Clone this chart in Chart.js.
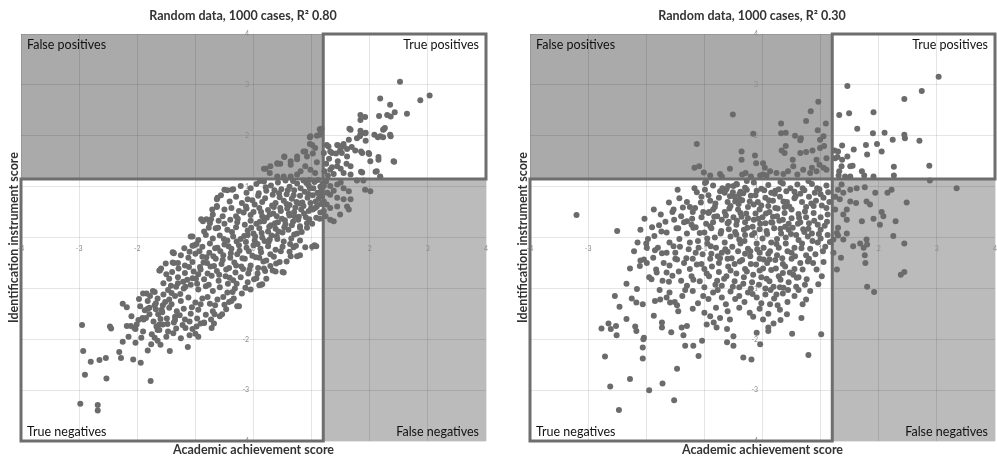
<!DOCTYPE html>
<html>
<head>
<meta charset="utf-8">
<title>Random data, 1000 cases</title>
<script src="https://cdn.jsdelivr.net/npm/chart.js@4.4.1/dist/chart.umd.min.js"></script>
<style>
  html, body { margin: 0; padding: 0; background: #fff; overflow: hidden; }
  .panel { position: absolute; top: 0; }
</style>
</head>
<body>
<div class="panel" style="left:0"><canvas id="chartStrong" width="498" height="457"></canvas></div>
<div class="panel" style="left:509px"><canvas id="chartWeak" width="498" height="457"></canvas></div>
<script>
// titles and labels
const chartTitles = ["Random data, 1000 cases, R\u00b2 0.80", "Random data, 1000 cases, R\u00b2 0.30"];
const xTitle = "Academic achievement score";
const yTitle = "Identification instrument score";
const quadrantNames = ["False positives", "True positives", "True negatives", "False negatives"];

// axis range and cut-off scores (x = achievement, y = instrument)
const axisRange = [-4, 4];
const cutoffX = 1.2;
const cutoffY = 1.15;

// R² 0.80 panel [achievement, instrument]
const casesStrong = [
  // lower-left tail
  [-2.95,-1.72],[-2.93,-2.23],[-2.90,-2.70],[-2.80,-2.44],[-2.65,-2.41],[-2.54,-2.37],[-2.53,-2.77],[-2.98,-3.27],[-2.68,-3.29],[-2.68,-3.40],
  [-2.47,-1.75],[-2.45,-1.79],[-2.31,-2.25],[-2.28,-2.37],[-2.25,-1.30],[-2.18,-1.37],[-2.25,-2.05],[-2.18,-1.74],[-2.11,-1.74],[-2.05,-1.78],
  [-2.03,-1.80],[-2.15,-1.95],[-2.07,-2.40],[-2.03,-2.07],[-1.94,-2.46],[-1.91,-1.58],[-1.89,-1.61],[-1.82,-2.22],[-1.77,-2.82],[-1.76,-2.10],
  [-1.84,-1.10],[-1.82,-1.25],[-1.79,-1.38],[-1.73,-1.05],[-1.70,-1.07],[-1.70,-1.97],[-1.65,-2.03],[-1.60,-2.11],[-1.67,-1.75],[-1.65,-1.82],
  [-1.61,-0.65],[-1.59,-0.61],[-1.68,-1.41],[-1.56,-1.33],[-1.64,-1.51],[-1.56,-1.71],[-1.47,-1.85],[-1.44,-2.23],[-1.37,-0.31],[-1.37,-0.50],
  [-1.37,-1.67],[-1.35,-1.56],[-1.13,-2.15],[-1.17,-1.78],[-1.05,-1.80],[-1.00,-1.89],[-0.91,-1.69],[-0.85,-1.67],[-0.68,-1.69],[-0.67,-1.51],
  [-0.54,-1.51],[-0.42,-1.27],[-0.34,-1.20],[-0.28,-1.35],
  // band edges
  [0.13,-0.93],[0.01,-0.82],[0.38,-0.67],[0.52,-0.69],[0.80,-0.35],[0.75,-0.37],[0.64,-0.37],[1.08,-0.17],[1.01,-0.18],[0.18,-0.61],[0.29,-0.56],
  [0.73,-0.16],[0.89,-0.19],[1.05,-0.15],[0.50,-0.68],[0.10,-0.94],[0.33,-0.65],[0.22,-0.81],[0.70,0.06],[0.80,0.19],[0.96,0.36],[1.08,0.39],[1.02,0.55],
  [-0.50,0.94],[-0.37,0.94],[-0.63,0.75],[-0.63,0.62],[-0.73,0.36],[-0.81,0.36],[-0.90,0.36],[-0.53,0.42],[-0.61,0.19],[-1.08,0.02],[-1.05,-0.16],
  [-1.39,-0.29],[-1.39,-0.49],
  // band core
  [0.05,1.05],[0.18,1.10],[0.30,1.02],[0.42,1.08],[0.55,1.12],[0.62,1.00],[0.75,1.06],[0.86,1.12],[0.95,1.02],[1.05,1.09],[1.15,1.00],[0.48,0.95],
  [0.70,0.93],[0.88,0.90],[1.10,0.88],[0.22,0.92],[-0.05,0.97],[-0.45,0.93],[-0.35,0.95],[-0.12,0.88],
  [-0.62,0.78],[-0.30,0.80],[-0.10,0.75],[0.08,0.82],[0.20,0.77],[0.33,0.84],[0.45,0.79],[0.57,0.85],[0.66,0.76],[0.80,0.82],[0.93,0.78],[1.02,0.83],
  [1.12,0.76],[0.15,0.70],[0.38,0.68],[0.52,0.72],[0.74,0.70],[0.98,0.68],[1.16,0.66],[-0.20,0.68],[0.02,0.65],[0.62,0.64],[0.86,0.62],
  [-0.63,0.60],[-0.50,0.55],[-0.38,0.58],[-0.25,0.52],[-0.12,0.57],[0.00,0.50],[0.10,0.58],[0.25,0.54],[0.35,0.60],[0.47,0.52],[0.58,0.57],[0.70,0.50],
  [0.82,0.55],[0.95,0.52],[1.06,0.58],[1.15,0.49],[0.28,0.45],[0.40,0.42],[0.15,0.42],[-0.05,0.44],[0.62,0.43],[0.78,0.41],[0.90,0.40],[-0.30,0.42],[-0.70,0.45],
  [-0.87,0.32],[-0.75,0.28],[-0.60,0.33],[-0.50,0.27],[-0.40,0.35],[-0.28,0.30],[-0.15,0.25],[-0.05,0.33],[0.05,0.27],[0.18,0.32],[0.30,0.24],[0.42,0.30],
  [0.55,0.26],[0.68,0.31],[0.80,0.22],[0.92,0.28],[-0.65,0.18],[-0.45,0.15],[-0.30,0.20],[-0.10,0.14],[0.10,0.18],[0.25,0.12],[0.38,0.17],[0.50,0.10],
  [0.60,0.15],[0.75,0.08],[-0.85,0.12],[0.00,0.08],
  [-1.05,0.02],[-0.95,-0.05],[-0.82,0.05],[-0.70,-0.02],[-0.58,0.04],[-0.45,-0.06],[-0.35,0.02],[-0.22,-0.03],[-0.10,0.05],[0.02,-0.06],[0.15,0.00],[0.28,-0.04],
  [0.40,0.03],[0.52,-0.08],[0.65,-0.02],[0.80,-0.06],[-1.02,-0.15],[-0.88,-0.18],[-0.75,-0.12],[-0.62,-0.20],[-0.50,-0.14],[-0.38,-0.22],[-0.25,-0.15],[-0.12,-0.20],
  [0.00,-0.15],[0.12,-0.22],[0.25,-0.17],[0.38,-0.24],[0.50,-0.18],[0.62,-0.28],[-1.10,-0.28],
  [-1.38,-0.30],[-1.25,-0.35],[-1.12,-0.40],[-1.00,-0.32],[-0.88,-0.38],[-0.76,-0.30],[-0.65,-0.42],[-0.52,-0.35],[-0.40,-0.40],[-0.28,-0.33],[-0.15,-0.42],[-0.02,-0.36],
  [0.10,-0.40],[0.22,-0.45],[0.35,-0.38],[0.45,-0.48],[-1.30,-0.50],[-1.18,-0.55],[-1.05,-0.48],[-0.92,-0.58],[-0.80,-0.50],[-0.68,-0.56],[-0.55,-0.52],[-0.42,-0.60],
  [-0.30,-0.55],[-0.18,-0.62],[-0.05,-0.55],[0.08,-0.60],[0.20,-0.66],
  [-1.62,-0.65],[-1.50,-0.72],[-1.40,-0.68],[-1.30,-0.78],[-1.18,-0.70],[-1.05,-0.80],[-0.95,-0.72],[-0.85,-0.82],[-0.72,-0.75],[-0.60,-0.85],[-0.48,-0.76],[-0.35,-0.84],
  [-0.22,-0.78],[-0.10,-0.88],[0.05,-0.80],[0.15,-0.92],[-1.55,-0.90],[-1.42,-0.95],[-1.30,-0.90],[-1.20,-1.00],[-1.08,-0.93],[-0.95,-1.02],[-0.82,-0.96],[-0.70,-1.05],
  [-0.58,-0.98],[-0.45,-1.08],[-0.32,-1.00],[-0.20,-1.10],[-0.05,-1.02],
  [-1.90,-1.10],[-1.78,-1.15],[-1.65,-1.20],[-1.55,-1.12],[-1.45,-1.22],[-1.35,-1.15],[-1.25,-1.25],[-1.12,-1.18],[-1.00,-1.28],[-0.88,-1.20],[-0.75,-1.30],[-0.62,-1.22],
  [-0.50,-1.32],[-0.38,-1.25],[-0.25,-1.35],[-1.95,-1.35],[-1.82,-1.40],[-1.70,-1.33],[-1.58,-1.42],[-1.45,-1.38],[-1.32,-1.45],[-1.20,-1.40],[-1.08,-1.50],[-0.95,-1.42],
  [-0.82,-1.52],[-0.70,-1.45],[-0.58,-1.55],
  [-2.10,-1.55],[-1.98,-1.62],[-1.85,-1.58],[-1.72,-1.65],[-1.60,-1.60],[-1.48,-1.70],[-1.35,-1.62],[-1.22,-1.72],[-1.10,-1.65],[-0.98,-1.75],[-0.85,-1.68],[-0.72,-1.78],
  [-1.90,-1.85],[-1.75,-1.90],[-1.62,-1.82],[-1.50,-1.95],[-1.38,-1.88],[-1.25,-1.98],[-1.10,-1.92],[-0.95,-1.95],
  // band core, filling between the rows
  [-1.47,-1.03],[-1.33,-0.97],[-1.26,-1.11],[-1.14,-0.83],[-1.03,-0.67],[-0.97,-0.91],[-0.91,-0.63],[-0.86,-0.49],[-0.79,-0.71],[-0.74,-0.57],[-0.69,-0.37],[-0.63,-0.66],
  [-0.57,-0.27],[-0.53,-0.44],[-0.47,-0.63],[-0.43,-0.17],[-0.39,-0.31],[-0.33,-0.49],[-0.29,-0.08],[-0.24,-0.26],[-0.19,-0.41],[-0.16,0.03],[-0.13,-0.09],[-0.08,-0.27],
  [-0.04,0.19],[0.03,0.02],[0.07,-0.13],[0.11,0.31],[0.14,0.09],[0.19,-0.07],[0.23,0.39],[0.27,0.21],[0.31,0.04],[0.34,0.47],[0.37,0.28],[0.43,0.12],
  [0.46,0.58],[0.49,0.37],[0.53,0.20],[0.57,0.66],[0.61,0.47],[0.66,0.24],[0.69,0.83],[0.72,0.59],[0.77,0.35],[0.81,0.97],[0.84,0.69],[0.87,0.47],
  [0.91,1.07],[0.94,0.86],[0.99,0.58],[1.03,0.97],[1.07,0.71],[1.11,1.13],[1.13,0.85],[1.17,0.93],[1.19,1.06],
  [-1.52,-1.27],[-1.41,-1.09],[-1.29,-0.61],[-1.17,-0.97],[-1.11,-0.58],[-0.99,-0.81],[-0.93,-0.27],[-0.81,-0.39],[-0.77,-0.93],[-0.66,-0.21],[-0.59,-0.73],[-0.51,-0.03],
  [-0.44,-0.91],[-0.37,0.11],[-0.31,-0.69],[-0.27,0.37],[-0.21,-0.57],[-0.17,0.49],[-0.09,-0.71],[-0.02,0.73],[0.04,-0.39],[0.09,0.87],[0.13,-0.29],[0.21,0.99],
  [0.26,-0.09],[0.32,0.63],[0.41,-0.03],[0.44,0.87],[0.54,0.34],[0.59,0.93],[0.63,-0.13],[0.71,0.41],[0.79,0.67],[0.83,0.11],[0.92,0.19],[0.97,0.97],
  [1.01,0.27],[1.09,0.61],[1.14,0.37],[1.18,0.81],
  [-1.79,-1.51],[-1.68,-1.29],[-1.62,-1.71],[-1.57,-1.47],[-1.49,-1.59],[-1.41,-1.31],[-1.33,-1.79],[-1.27,-1.53],[-1.18,-1.61],[-1.06,-1.37],[-0.97,-1.59],[-0.91,-1.31],
  [-0.79,-1.17],[-0.73,-1.61],[-0.66,-1.33],[-0.52,-1.17],[-0.47,-1.41],[-0.41,-0.79],[-0.36,-1.07],[-0.29,-0.91],[-0.14,-0.99],[-0.07,-0.63],[0.07,-0.71],[0.17,-0.47],
  [0.29,-0.33],[0.39,-0.51],[0.47,-0.27],[0.57,-0.47],[0.69,-0.19],
  [-1.97,-1.21],[-1.87,-1.43],[-2.01,-1.71],[-1.93,-1.97],[-1.45,-0.81],[-1.21,-0.87],[-1.51,-0.51],[-1.19,-0.21],[-0.98,-0.13],[-0.77,0.19],[-0.71,0.55],[-0.56,0.83],
  [-0.41,0.71],[-0.22,1.01],[-0.13,0.61],[0.11,1.11],[0.36,0.93],[0.13,0.50],[0.68,1.11],[0.96,1.13],
  // upper right
  [2.52,3.06],[3.03,2.79],[2.87,2.70],[2.18,2.73],[2.35,2.61],[2.43,2.46],[2.64,2.43],[2.16,2.39],[2.30,2.41],[2.36,2.38],[1.84,2.41],[1.92,2.37],
  [1.84,2.31],[1.65,2.14],[1.84,2.10],[1.93,2.06],[2.08,2.02],[2.14,1.97],[2.23,2.12],[2.26,2.15],[2.23,1.97],[2.36,1.99],[1.78,1.95],[1.83,1.99],
  [1.93,1.90],[1.85,1.69],[1.99,1.64],[2.15,1.58],[2.42,1.49],[1.87,1.28],[2.10,1.29],[2.18,1.20],[1.67,2.12],[1.64,1.92],[1.55,1.84],[1.46,1.81],
  [1.49,1.71],[1.61,1.74],[1.69,1.78],[1.75,1.71],[1.35,1.66],[1.42,1.65],[1.29,1.79],[1.26,1.82],
  [1.21,1.66],[1.32,1.69],[1.44,1.82],[1.55,1.79],[1.52,1.66],[1.61,1.59],[1.67,1.40],[1.44,1.40],[1.32,1.33],[1.55,1.27],[1.67,1.24],[1.78,1.12],
  [1.89,1.12],[2.15,1.53],[2.01,1.50],[1.87,1.66],[1.98,1.66],[1.84,2.02],[1.92,2.05],[2.18,1.99],[2.24,2.13],[2.35,2.02],[2.41,1.50],[2.12,1.30],
  [2.18,1.19],[1.85,1.29],[1.25,1.45],[1.30,1.55],[1.38,1.25],[1.45,1.50],[1.28,1.22],[1.35,1.38],[1.50,1.35],[1.22,1.30],[1.60,1.45],
  // above the instrument cut-off, below the achievement cut-off
  [1.14,2.13],[1.09,2.00],[0.97,1.97],[0.97,1.84],[1.06,1.76],[0.89,1.69],[0.75,1.59],[0.53,1.59],[0.64,1.50],[0.46,1.45],[0.41,1.45],[0.29,1.40],
  [0.21,1.35],[0.41,1.46],[0.53,1.58],[0.64,1.43],[0.75,1.54],[0.28,1.27],[0.18,1.35],[0.98,1.99],[1.01,1.82],[1.14,2.02],[1.17,2.14],[0.86,1.69],
  [0.92,1.59],[1.02,1.65],[1.09,1.48],[0.89,1.40],[0.41,1.20],[0.52,1.20],[0.64,1.20],[0.75,1.24],[0.81,1.30],[0.98,1.33],[1.06,1.27],
  // below the instrument cut-off, above the achievement cut-off
  [1.21,1.01],[1.32,1.01],[1.44,1.04],[1.55,0.97],[1.64,0.91],[1.32,0.84],[1.44,0.78],[1.55,0.75],[1.67,0.75],[1.21,0.71],[1.32,0.58],[1.44,0.61],
  [1.61,0.61],[1.64,0.55],[1.24,0.42],[1.32,0.35],[1.38,0.32],[1.49,0.45],[1.92,0.94],[2.01,0.91],[1.21,0.52],[1.26,0.65],[1.27,0.88],[1.38,0.92],
  [1.50,1.08],[1.25,1.10]
];

// R² 0.30 panel
const casesWeak = [
  // false positives
  [-0.51,2.42],[-1.13,1.84],[-0.36,1.69],[-0.36,1.53],[-1.17,1.37],[-1.09,1.40],[-1.01,1.28],[-0.73,1.25],[-0.70,1.20],[-0.56,1.35],[-0.29,1.27],[-0.35,1.24],
  [-0.16,2.04],[-0.11,1.46],[-0.13,1.61],[0.01,1.46],[0.04,1.37],[0.33,1.71],[0.38,1.66],[0.40,1.80],[0.52,1.53],[0.65,1.66],[0.75,1.68],[0.86,1.71],
  [0.99,1.76],[1.06,1.80],[1.10,1.56],[1.05,1.37],[0.93,1.30],[0.82,1.27],[0.70,1.33],[0.53,1.40],[0.44,1.30],[0.36,1.25],[0.24,1.27],[0.13,1.30],
  [0.07,1.22],[-0.04,1.22],[0.99,1.92],[1.05,1.99],[0.96,2.67],[0.83,2.48],[0.75,2.29],[0.95,2.11],[1.09,2.24],[0.32,2.24],[0.32,2.05],[0.40,2.06],
  [0.56,2.00],[0.66,1.95],[0.65,1.91],[0.85,1.37],[0.98,1.43],[0.93,1.53],[1.10,1.33],[0.01,1.24],[0.60,1.24],[-0.20,1.20],[-0.90,1.22],
  // true positives
  [3.03,3.16],[2.74,2.88],[2.44,2.72],[1.46,2.98],[1.32,2.41],[1.49,2.44],[1.91,2.46],[1.63,2.14],[1.90,2.05],[2.10,2.06],[2.44,2.02],[2.45,1.95],
  [2.70,1.90],[2.24,1.92],[1.78,1.82],[1.97,1.84],[2.05,1.69],[1.80,1.63],[1.57,1.73],[1.46,1.59],[1.37,1.53],[1.29,1.58],[1.24,1.71],[1.37,1.81],
  [1.30,1.69],[1.51,1.40],[1.55,1.41],[1.36,1.40],[1.32,1.30],[1.31,1.22],[1.51,1.20],[1.75,1.22],[1.91,1.20],[2.26,1.39],[2.26,1.22],[2.87,1.41],
  [2.88,1.12],[1.25,1.56],[1.42,1.20],[1.71,1.30],
  // false negatives
  [1.30,0.94],[1.39,0.88],[1.51,0.94],[1.62,0.97],[1.76,0.99],[1.94,0.88],[2.15,0.88],[2.22,0.94],[2.48,0.69],[1.51,0.71],[1.61,0.68],[1.79,0.71],
  [1.85,0.65],[1.45,0.55],[1.39,0.45],[1.45,0.35],[1.71,0.32],[1.91,0.37],[2.05,0.50],[2.08,0.42],[2.29,0.32],[2.02,0.25],[1.30,0.19],[1.25,0.55],
  [1.33,0.75],[1.28,0.09],[1.36,1.04],[1.25,0.80],
  [2.25,0.03],[2.44,-0.12],[1.79,-0.04],[1.80,-0.14],[1.74,-0.20],[1.76,-0.35],[1.77,-0.50],[1.68,-0.12],[1.28,-0.63],[1.35,-0.40],[1.45,0.08],[1.30,0.04],
  [1.22,-0.30],[2.38,-0.73],[2.44,-0.68],[1.80,-0.97],[1.92,-1.07],[1.56,-0.17],[1.39,-0.04],[3.34,0.97],[1.22,-0.04],
  // left side, above zero
  [-1.46,0.94],[-3.20,0.44],[-2.50,0.13],[-1.87,0.55],[-1.53,0.55],[-1.52,0.35],[-1.48,0.18],[-1.78,0.24],[-1.74,0.12],[-1.86,0.03],[-1.13,0.89],[-0.99,0.94],
  [-0.99,1.07],[-1.16,0.58],[-1.02,0.50],[-0.93,0.48],[-0.85,0.55],[-1.30,0.32],[-1.22,0.25],[-1.19,0.19],[-0.90,0.22],[-1.08,0.09],[-0.73,0.91],[-0.59,1.01],
  [-0.50,1.01],[-0.44,1.04],[-0.56,0.81],[-0.47,0.71],[-0.39,0.75],[-0.27,0.94],
  // main cloud
  [-0.85,1.02],[-0.62,0.95],[-0.45,1.05],[-0.30,0.98],[-0.15,1.08],[-0.02,0.96],[0.10,1.03],[0.22,0.92],[0.35,1.06],[0.48,0.97],[0.60,1.04],[0.72,0.93],
  [0.85,1.05],[0.98,0.95],[1.10,1.02],[-0.38,0.90],[0.15,0.88],[0.55,0.90],[0.90,0.88],
  [-1.30,0.70],[-1.05,0.80],[-0.90,0.72],[-0.75,0.78],[-0.60,0.70],[-0.48,0.80],[-0.35,0.73],[-0.20,0.82],[-0.08,0.70],[0.05,0.78],[0.18,0.72],[0.30,0.80],
  [0.42,0.70],[0.55,0.77],[0.68,0.70],[0.80,0.80],[0.92,0.72],[1.05,0.78],[1.15,0.70],[-0.55,0.62],[-0.25,0.60],[0.10,0.62],[0.38,0.60],[0.75,0.60],[-0.05,0.55],
  [-1.75,0.45],[-1.55,0.50],[-1.40,0.42],[-1.20,0.50],[-1.05,0.40],[-0.92,0.50],[-0.78,0.42],[-0.65,0.50],[-0.50,0.40],[-0.38,0.48],[-0.25,0.38],[-0.12,0.47],
  [0.00,0.40],[0.12,0.50],[0.25,0.42],[0.38,0.48],[0.50,0.38],[0.62,0.46],[0.75,0.40],[0.88,0.48],[1.00,0.40],[1.12,0.45],[-0.85,0.30],[-0.60,0.28],
  [-0.30,0.30],[0.05,0.28],[0.45,0.27],[0.80,0.28],
  [-2.10,0.15],[-1.90,0.20],[-1.65,0.10],[-1.45,0.18],[-1.30,0.08],[-1.15,0.20],[-1.00,0.10],[-0.88,0.18],[-0.72,0.08],[-0.58,0.16],[-0.45,0.06],[-0.32,0.15],
  [-0.18,0.05],[-0.05,0.16],[0.08,0.07],[0.20,0.18],[0.32,0.08],[0.45,0.15],[0.58,0.05],[0.70,0.16],[0.85,0.08],[1.00,0.15],[1.12,0.05],[-0.95,-0.02],
  [-0.40,-0.04],[0.25,-0.03],[0.62,-0.05],
  [-2.00,-0.12],[-1.80,-0.20],[-1.60,-0.10],[-1.42,-0.18],[-1.25,-0.10],[-1.10,-0.20],[-0.95,-0.12],[-0.80,-0.20],[-0.65,-0.10],[-0.52,-0.18],[-0.38,-0.12],[-0.25,-0.22],
  [-0.10,-0.12],[0.02,-0.20],[0.15,-0.10],[0.28,-0.20],[0.40,-0.12],[0.55,-0.20],[0.68,-0.12],[0.82,-0.22],[0.95,-0.10],[1.08,-0.18],[-1.50,-0.30],[-0.70,-0.30],
  [0.10,-0.32],[0.75,-0.35],
  [-2.10,-0.45],[-1.88,-0.40],[-1.70,-0.50],[-1.50,-0.42],[-1.35,-0.50],[-1.20,-0.42],[-1.05,-0.52],[-0.90,-0.42],[-0.75,-0.50],[-0.60,-0.42],[-0.48,-0.52],[-0.35,-0.44],
  [-0.20,-0.52],[-0.05,-0.42],[0.08,-0.50],[0.22,-0.44],[0.35,-0.52],[0.50,-0.42],[0.65,-0.50],[0.80,-0.42],[1.05,-0.48],[-1.25,-0.62],[-0.55,-0.65],[0.15,-0.64],
  [0.55,-0.62],
  [-1.95,-0.78],[-1.72,-0.85],[-1.55,-0.75],[-1.40,-0.85],[-1.22,-0.76],[-1.08,-0.86],[-0.92,-0.76],[-0.78,-0.85],[-0.62,-0.76],[-0.48,-0.86],[-0.32,-0.78],[-0.18,-0.88],
  [-0.02,-0.78],[0.12,-0.86],[0.28,-0.76],[0.45,-0.88],[0.62,-0.78],[-1.00,-0.98],[-0.40,-0.98],[0.05,-1.00],
  [-1.60,-1.08],[-1.38,-1.15],[-1.20,-1.05],[-1.02,-1.15],[-0.85,-1.08],[-0.70,-1.18],[-0.55,-1.06],[-0.40,-1.15],[-0.25,-1.08],[-0.10,-1.18],[0.05,-1.12],[0.20,-1.20],
  [0.35,-1.10],[0.55,-1.15],[0.75,-1.22],
  [-1.45,-1.45],[-1.20,-1.40],[-1.00,-1.48],[-0.80,-1.38],[-0.60,-1.45],[-0.40,-1.38],[-0.22,-1.48],[-0.05,-1.40],[0.10,-1.50],[0.30,-1.42],
  [-0.65,0.88],[-0.40,0.85],[-0.10,0.92],[0.28,0.95],[0.65,0.86],[1.00,0.85],[-0.82,0.60],[-0.42,0.55],[-0.15,0.65],[0.22,0.58],[0.50,0.55],[0.88,0.62],
  [1.10,0.58],[-0.70,0.35],[-0.45,0.25],[-0.15,0.35],[0.15,0.30],[0.35,0.35],[0.65,0.30],[0.95,0.25],[-0.82,0.00],[-0.55,0.02],[-0.30,0.05],[0.00,-0.02],
  [0.40,0.00],[0.78,0.02],[1.00,-0.02],[-0.88,-0.32],[-0.60,-0.28],[-0.30,-0.32],[-0.05,-0.30],[0.25,-0.35],[0.50,-0.30],[-1.00,-0.62],[-0.75,-0.68],[-0.30,-0.62],
  [-0.05,-0.65],[0.35,-0.70],[-1.30,-0.95],[-0.70,-0.95],[-0.20,-1.00],[0.30,-0.98],[-1.15,-0.30],[-1.35,0.30],[-1.60,-0.55],[-1.85,-0.25],[-1.25,0.60],
  [-0.93,0.83],[-0.81,0.67],[-0.69,0.97],[-0.63,0.43],[-0.57,0.57],[-0.51,0.89],[-0.44,0.33],[-0.41,0.66],[-0.33,0.87],[-0.28,0.47],[-0.22,0.71],[-0.17,0.21],
  [-0.12,0.83],[-0.07,0.37],[-0.02,0.63],[0.03,0.93],[0.06,0.47],[0.11,0.73],[0.17,0.29],[0.21,0.86],[0.26,0.57],[0.31,0.17],[0.36,0.71],[0.41,0.91],
  [0.46,0.61],[0.52,0.19],[0.57,0.81],[0.63,0.39],[0.69,0.97],[0.73,0.51],[0.79,0.17],[0.84,0.67],[0.89,0.33],[0.94,0.97],[1.02,0.63],[1.07,0.23],[1.13,0.89],
  [-1.43,-0.03],[-1.37,0.59],[-1.27,-0.23],[-1.21,0.37],[-1.11,-0.07],[-1.06,0.69],[-0.97,0.27],[-0.89,-0.17],[-0.83,0.41],[-0.77,-0.37],[-0.71,0.13],[-0.64,-0.23],
  [-0.58,0.31],[-0.53,-0.41],[-0.47,0.11],[-0.42,-0.27],[-0.36,0.41],[-0.31,-0.07],[-0.26,0.19],[-0.21,-0.37],[-0.14,0.09],[-0.09,-0.23],[-0.04,0.27],[0.02,-0.43],
  [0.07,0.13],[0.13,-0.27],[0.18,0.41],[0.24,-0.13],[0.29,0.33],[0.34,-0.41],[0.39,0.21],[0.43,-0.27],[0.49,0.07],[0.56,-0.37],[0.61,0.27],[0.67,-0.21],
  [0.72,0.11],[0.78,-0.47],[0.86,-0.07],[0.91,-0.33],[0.97,0.07],[1.04,-0.27],[1.11,0.31],[1.16,-0.09],
  [-1.83,-0.63],[-1.73,-0.31],[-1.61,-0.87],[-1.53,-0.17],[-1.44,-0.67],[-1.31,-0.41],[-1.19,-0.83],[-1.13,-0.53],[-1.03,-0.33],[-0.96,-0.71],[-0.87,-0.57],[-0.81,-0.93],
  [-0.73,-0.41],[-0.66,-0.81],[-0.59,-0.57],[-0.51,-0.97],[-0.45,-0.71],[-0.39,-0.47],[-0.33,-0.91],[-0.27,-0.67],[-0.21,-0.27],[-0.16,-0.73],[-0.11,-0.53],[-0.06,-0.93],
  [0.01,-0.61],[0.07,-0.81],[0.12,-0.43],[0.19,-0.97],[0.23,-0.61],[0.31,-0.83],[0.39,-0.57],[0.44,-1.03],[0.53,-0.73],[0.58,-0.97],[0.69,-0.63],[0.73,-0.93],
  [-1.77,-1.03],[-1.51,-1.27],[-1.33,-1.03],[-1.11,-1.29],[-0.93,-1.21],[-0.77,-1.03],[-0.63,-1.31],[-0.47,-1.21],[-0.31,-1.27],[-0.17,-1.11],[-0.02,-1.29],[0.14,-1.03],
  [0.26,-1.33],[0.43,-1.27],[0.62,-1.03],
  [-1.67,0.31],[-1.61,0.69],[-1.43,0.77],[-1.17,0.97],[-2.03,0.37],[-2.21,-0.27],[-1.97,-0.03],[-0.97,1.09],[-0.27,1.11],[0.31,1.09],[0.79,1.11],
  [-2.15,-0.10],[-1.99,-0.20],[-2.04,-0.43],[-1.99,-0.50],[-2.28,-0.61],[-2.11,-0.56],[-2.34,-0.91],[-2.16,-1.01],[-2.54,-1.15],[-2.46,-1.36],[-2.25,-1.20],[-2.17,-1.28],
  [-2.06,-1.31],[-1.91,-0.82],[-1.82,-0.69],[-1.65,-0.69],[-1.47,-0.43],[-1.65,-0.30],
  // lower tail
  [-2.71,-2.34],[-2.62,-2.93],[-2.47,-3.39],[-2.28,-2.78],[-1.95,-3.00],[-1.72,-2.87],[-1.52,-3.20],[-1.47,-2.58],[-2.06,-2.16],[-2.06,-2.38],[-2.05,-2.00],[-2.04,-1.97],
  [-2.77,-1.79],[-2.65,-1.69],[-2.61,-1.80],[-2.51,-1.92],[-2.52,-1.74],[-2.34,-1.60],[-2.19,-1.75],[-2.17,-1.84],[-1.87,-1.54],[-1.73,-1.67],[-1.73,-1.77],[-1.57,-1.86],
  [-1.36,-1.92],[-1.33,-2.13],[-1.19,-2.13],[-1.10,-2.33],[-1.04,-2.03],[-0.90,-1.55],[-0.79,-1.77],[-0.61,-2.06],[-0.50,-2.13],[-0.33,-2.36],[-1.85,-1.25],[-1.76,-1.22],
  [-1.65,-1.18],[-1.59,-1.28],[-1.47,-1.33],[-1.39,-1.77],[-1.30,-1.74],[-0.96,-1.71],[-0.84,-1.67],[-0.73,-1.58],[-0.56,-1.61],[-0.61,-1.80],[-0.50,-1.94],
  [1.01,-1.90],[0.79,-2.31],[0.51,-1.89],[0.67,-1.58],[0.69,-1.31],[0.42,-1.51],[0.31,-1.62],[0.19,-1.69],[0.10,-1.77],[0.10,-1.84],[0.01,-1.61],[-0.04,-2.10],
  [-0.19,-2.40],[-0.10,-1.87],[-0.16,-1.56],[0.82,-1.05],[0.96,-0.92],[1.02,-0.76],[0.93,-0.63],[0.87,-0.50],[0.76,-0.82],[0.59,-0.79],[0.47,-0.69],[0.36,-0.99],
  [0.24,-1.12],[0.13,-1.31]
];

const FONT = "Lato, 'Open Sans', sans-serif";
const GRID = "rgba(0, 0, 0, 0.1)";
const DOT = "#6b6b6b";

Chart.defaults.font.family = FONT;

// shaded quadrants, the two framed boxes and their captions
const quadrants = {
  id: "quadrants",
  beforeDraw(chart) {
    const { ctx, chartArea: a, scales: { x, y } } = chart;
    const cx = x.getPixelForValue(cutoffX);
    const cy = y.getPixelForValue(cutoffY);
    ctx.save();
    ctx.fillStyle = "#aaaaaa";
    ctx.fillRect(a.left, a.top, cx - a.left, cy - a.top);
    ctx.fillStyle = "#bbbbbb";
    ctx.fillRect(cx, cy, a.right - cx, a.bottom - cy);
    ctx.restore();
  },
  beforeDatasetsDraw(chart) {
    const { ctx, chartArea: a, scales: { x, y } } = chart;
    const cx = x.getPixelForValue(cutoffX);
    const cy = y.getPixelForValue(cutoffY);
    ctx.save();
    ctx.strokeStyle = "#6e6e6e";
    ctx.lineWidth = 3;
    ctx.strokeRect(cx, a.top, a.right - cx, cy - a.top);
    ctx.strokeRect(a.left, cy, cx - a.left, a.bottom - cy);

    ctx.fillStyle = "#111";
    ctx.font = "12.5px " + FONT;
    ctx.textBaseline = "middle";
    ctx.textAlign = "left";
    ctx.fillText(quadrantNames[0], a.left + 6, a.top + 11);
    ctx.fillText(quadrantNames[2], a.left + 6, a.bottom - 9);
    ctx.textAlign = "right";
    ctx.fillText(quadrantNames[1], a.right - 7, a.top + 11);
    ctx.fillText(quadrantNames[3], a.right - 7, a.bottom - 9);
    ctx.restore();
  }
};

function edgeAxis(title, padding) {
  return {
    type: "linear",
    min: axisRange[0],
    max: axisRange[1],
    ticks: { display: false, stepSize: 1 },
    grid: { color: GRID, drawTicks: false },
    border: { display: false },
    title: { display: true, text: title, color: "#333", font: { size: 12.5, weight: "bold" }, padding: padding }
  };
}

function midAxis(axis, position, extra) {
  return {
    type: "linear",
    axis: axis,
    position: position,
    min: axisRange[0],
    max: axisRange[1],
    ticks: Object.assign({ stepSize: 1, color: "#8c8c8c", font: { size: 7 } }, extra),
    grid: { display: false, drawTicks: false },
    border: { display: false }
  };
}

function makeChart(id, title, cases) {
  return new Chart(document.getElementById(id), {
    type: "scatter",
    data: {
      datasets: [{
        data: cases.map(([x, y]) => ({ x, y })),
        backgroundColor: DOT,
        borderWidth: 0,
        pointRadius: 3,
        pointHoverRadius: 3
      }]
    },
    options: {
      responsive: false,
      animation: false,
      devicePixelRatio: 1,
      layout: { padding: { left: 0, right: 12, top: 0, bottom: 0 } },
      plugins: {
        legend: { display: false },
        tooltip: { enabled: false },
        title: {
          display: true,
          text: title,
          color: "#333",
          font: { size: 12.5, weight: "bold" },
          padding: { top: 8, bottom: 11 }
        }
      },
      scales: {
        x: edgeAxis(xTitle, { top: 1, bottom: 0 }),
        y: edgeAxis(yTitle, { top: 6, bottom: 0 }),
        xMid: midAxis("x", { y: 0 }, { padding: 7 }),
        // labels sit a little left of the centre line
        yMid: midAxis("y", { x: 0 }, { callback: (v) => v + "\u2002\u2009" })
      }
    },
    plugins: [quadrants]
  });
}

makeChart("chartStrong", chartTitles[0], casesStrong);
makeChart("chartWeak", chartTitles[1], casesWeak);
</script>
</body>
</html>
